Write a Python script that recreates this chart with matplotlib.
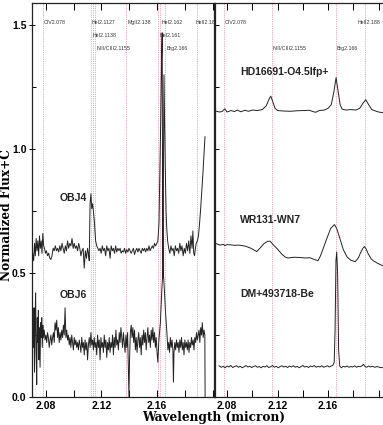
import matplotlib
matplotlib.use("Agg")
import matplotlib.pyplot as plt
from matplotlib.ticker import MultipleLocator, FixedLocator, FixedFormatter
from matplotlib.font_manager import FontProperties

# ---------------- data ----------------
obj4_wl = [2.0705, 2.0712, 2.0718, 2.0724, 2.0730, 2.0736, 2.0742, 2.0748, 2.0754, 2.0760,
           2.0766, 2.0772, 2.0778, 2.0784, 2.0790, 2.0797, 2.0804, 2.0812, 2.0820, 2.0828,
           2.0836, 2.0844, 2.0852, 2.0860, 2.0868, 2.0876, 2.0884, 2.0892, 2.0900, 2.0908,
           2.0916, 2.0924, 2.0932, 2.0940, 2.0948, 2.0956, 2.0964, 2.0972, 2.0980, 2.0988,
           2.0996, 2.1004, 2.1012, 2.1020, 2.1028, 2.1036, 2.1044, 2.1052, 2.1060, 2.1068,
           2.1076, 2.1084, 2.1092, 2.1100, 2.1106, 2.1112, 2.1118, 2.1124, 2.1130, 2.1136,
           2.1142, 2.1150, 2.1158, 2.1166, 2.1174, 2.1182, 2.1190, 2.1198, 2.1206, 2.1214,
           2.1222, 2.1230, 2.1238, 2.1246, 2.1254, 2.1262, 2.1270, 2.1278, 2.1286, 2.1294,
           2.1302, 2.1310, 2.1318, 2.1326, 2.1334, 2.1342, 2.1350, 2.1358, 2.1366, 2.1374,
           2.1382, 2.1390, 2.1398, 2.1406, 2.1414, 2.1422, 2.1430, 2.1438, 2.1446, 2.1454,
           2.1462, 2.1470, 2.1478, 2.1486, 2.1494, 2.1502, 2.1510, 2.1518, 2.1526, 2.1534,
           2.1542, 2.1550, 2.1558, 2.1566, 2.1574, 2.1582, 2.1590, 2.1598, 2.1606, 2.1614,
           2.1620, 2.1626, 2.1632, 2.1637, 2.1640, 2.1643, 2.1646, 2.1650, 2.1655, 2.1660,
           2.1665, 2.1670, 2.1676, 2.1684, 2.1692, 2.1700, 2.1708, 2.1716, 2.1724, 2.1732,
           2.1740, 2.1748, 2.1756, 2.1764, 2.1772, 2.1780, 2.1788, 2.1796, 2.1804, 2.1812,
           2.1820, 2.1828, 2.1836, 2.1844, 2.1852, 2.1858, 2.1864, 2.1870, 2.1876, 2.1882,
           2.1890, 2.1898, 2.1906, 2.1914, 2.1922, 2.1930, 2.1938, 2.1945]
obj4_flux = [0.58, 0.55, 0.62, 0.57, 0.64, 0.59, 0.63, 0.57, 0.65, 0.60,
             0.63, 0.58, 0.66, 0.61, 0.60, 0.58, 0.59, 0.57, 0.58, 0.56,
             0.555, 0.57, 0.60, 0.59, 0.61, 0.59, 0.60, 0.585, 0.61, 0.59,
             0.62, 0.60, 0.58, 0.61, 0.59, 0.63, 0.60, 0.62, 0.61, 0.64,
             0.60, 0.62, 0.60, 0.61, 0.59, 0.62, 0.60, 0.57, 0.59, 0.60,
             0.52, 0.59, 0.56, 0.60, 0.58, 0.55, 0.78, 0.82, 0.76, 0.78,
             0.75, 0.70, 0.63, 0.61, 0.60, 0.59, 0.60, 0.58, 0.61, 0.59,
             0.60, 0.57, 0.61, 0.59, 0.60, 0.56, 0.61, 0.59, 0.60, 0.58,
             0.61, 0.585, 0.60, 0.59, 0.60, 0.58, 0.59, 0.585, 0.60, 0.58,
             0.595, 0.585, 0.60, 0.59, 0.58, 0.59, 0.60, 0.575, 0.59, 0.60,
             0.585, 0.60, 0.59, 0.58, 0.60, 0.59, 0.60, 0.585, 0.60, 0.59,
             0.61, 0.59, 0.60, 0.61, 0.60, 0.62, 0.61, 0.62, 0.63, 0.70,
             0.90, 1.10, 1.35, 1.47, 0.80, 0.48, 0.90, 1.30, 1.10, 0.90,
             0.75, 0.68, 0.63, 0.60, 0.58, 0.61, 0.59, 0.60, 0.57, 0.61,
             0.59, 0.60, 0.58, 0.62, 0.59, 0.61, 0.57, 0.60, 0.58, 0.62,
             0.59, 0.63, 0.58, 0.65, 0.60, 0.67, 0.58, 0.57, 0.60, 0.62,
             0.63, 0.65, 0.70, 0.76, 0.83, 0.90, 0.98, 1.05]

obj6_wl = [2.0705, 2.0710, 2.0714, 2.0718, 2.0722, 2.0726, 2.0730, 2.0734, 2.0738, 2.0742,
           2.0746, 2.0750, 2.0754, 2.0758, 2.0762, 2.0766, 2.0770, 2.0774, 2.0778, 2.0782,
           2.0788, 2.0794, 2.0800, 2.0806, 2.0812, 2.0818, 2.0824, 2.0830, 2.0836, 2.0842,
           2.0848, 2.0854, 2.0860, 2.0866, 2.0872, 2.0878, 2.0884, 2.0890, 2.0896, 2.0902,
           2.0908, 2.0914, 2.0920, 2.0926, 2.0932, 2.0938, 2.0944, 2.0950, 2.0956, 2.0962,
           2.0968, 2.0974, 2.0980, 2.0986, 2.0992, 2.0998, 2.1004, 2.1010, 2.1016, 2.1022,
           2.1028, 2.1034, 2.1040, 2.1046, 2.1052, 2.1058, 2.1064, 2.1070, 2.1076, 2.1082,
           2.1088, 2.1094, 2.1100, 2.1106, 2.1112, 2.1118, 2.1124, 2.1130, 2.1136, 2.1142,
           2.1148, 2.1154, 2.1160, 2.1166, 2.1172, 2.1178, 2.1184, 2.1190, 2.1196, 2.1202,
           2.1208, 2.1214, 2.1220, 2.1226, 2.1232, 2.1238, 2.1244, 2.1250, 2.1256, 2.1262,
           2.1268, 2.1274, 2.1280, 2.1286, 2.1292, 2.1298, 2.1304, 2.1310, 2.1316, 2.1322,
           2.1328, 2.1334, 2.1340, 2.1346, 2.1352, 2.1358, 2.1364, 2.1370, 2.1376, 2.1382,
           2.1388, 2.1394, 2.1398, 2.1402, 2.1408, 2.1414, 2.1420, 2.1426, 2.1432, 2.1438,
           2.1444, 2.1450, 2.1456, 2.1462, 2.1468, 2.1474, 2.1480, 2.1486, 2.1492, 2.1498,
           2.1504, 2.1510, 2.1516, 2.1522, 2.1528, 2.1534, 2.1540, 2.1546, 2.1552, 2.1558,
           2.1564, 2.1570, 2.1576, 2.1582, 2.1588, 2.1594, 2.1600, 2.1606, 2.1612, 2.1618,
           2.1624, 2.1630, 2.1636, 2.1642, 2.1648, 2.1654, 2.1660, 2.1666, 2.1672, 2.1678,
           2.1684, 2.1690, 2.1696, 2.1702, 2.1708, 2.1714, 2.1718, 2.1722, 2.1728, 2.1734,
           2.1740, 2.1746, 2.1752, 2.1758, 2.1764, 2.1770, 2.1776, 2.1782, 2.1788, 2.1794,
           2.1800, 2.1806, 2.1812, 2.1818, 2.1824, 2.1830, 2.1836, 2.1842, 2.1848, 2.1854,
           2.1860, 2.1866, 2.1872, 2.1878, 2.1884, 2.1890, 2.1896, 2.1902, 2.1908, 2.1914,
           2.1920, 2.1926, 2.1932, 2.1938, 2.1944, 2.1946]
obj6_flux = [0.30, 0.20, 0.36, 0.10, 0.30, 0.42, 0.18, 0.05, 0.32, 0.22,
             0.35, 0.15, 0.28, 0.12, 0.30, 0.24, 0.32, 0.20, 0.29, 0.24,
             0.27, 0.23, 0.25, 0.22, 0.26, 0.24, 0.20, 0.23, 0.25, 0.21,
             0.24, 0.26, 0.22, 0.30, 0.27, 0.31, 0.24, 0.28, 0.22, 0.26,
             0.23, 0.27, 0.24, 0.29, 0.25, 0.36, 0.24, 0.27, 0.23, 0.25,
             0.21, 0.24, 0.20, 0.25, 0.22, 0.19, 0.24, 0.21, 0.23, 0.20,
             0.22, 0.19, 0.23, 0.21, 0.18, 0.24, 0.20, 0.22, 0.17, 0.23,
             0.19, 0.22, 0.15, 0.21, 0.24, 0.20, 0.26, 0.21, 0.23, 0.19,
             0.24, 0.20, 0.22, 0.17, 0.25, 0.20, 0.23, 0.15, 0.24, 0.20,
             0.22, 0.18, 0.25, 0.20, 0.23, 0.16, 0.22, 0.19, 0.24, 0.18,
             0.22, 0.20, 0.25, 0.17, 0.24, 0.20, 0.27, 0.21, 0.23, 0.19,
             0.26, 0.22, 0.28, 0.24, 0.20, 0.26, 0.22, 0.18, 0.25, 0.20,
             0.26, 0.10, 0.00, 0.15, 0.26, 0.29, 0.24, 0.28, 0.22, 0.27,
             0.19, 0.24, 0.18, 0.23, 0.26, 0.20, 0.24, 0.17, 0.25, 0.21,
             0.27, 0.22, 0.26, 0.19, 0.24, 0.28, 0.22, 0.25, 0.20, 0.27,
             0.23, 0.28, 0.22, 0.26, 0.20, 0.24, 0.18, 0.14, 0.22, 0.26,
             0.30, 0.38, 0.45, 0.50, 0.48, 0.42, 0.35, 0.30, 0.25, 0.19,
             0.22, 0.18, 0.24, 0.20, 0.23, 0.19, 0.06, 0.18, 0.22, 0.19,
             0.23, 0.20, 0.22, 0.18, 0.23, 0.20, 0.24, 0.19, 0.22, 0.17,
             0.23, 0.20, 0.22, 0.19, 0.23, 0.18, 0.22, 0.20, 0.24, 0.21,
             0.23, 0.19, 0.24, 0.22, 0.26, 0.23, 0.25, 0.27, 0.22, 0.28,
             0.25, 0.30, 0.24, 0.27, 0.25, 0.00]

hd_wl = [2.0705, 2.0740, 2.0760, 2.0784, 2.0800, 2.0830, 2.0860, 2.0880, 2.0910, 2.0940,
         2.0970, 2.1000, 2.1040, 2.1080, 2.1110, 2.1135, 2.1146, 2.1160, 2.1180, 2.1200,
         2.1250, 2.1300, 2.1350, 2.1400, 2.1450, 2.1480, 2.1500, 2.1530, 2.1570, 2.1600,
         2.1625, 2.1645, 2.1663, 2.1680, 2.1695, 2.1710, 2.1740, 2.1780, 2.1820, 2.1850,
         2.1875, 2.1898, 2.1920, 2.1945, 2.1970, 2.2000, 2.2050]
hd_flux = [1.155, 1.150, 1.152, 1.163, 1.150, 1.156, 1.152, 1.158, 1.151, 1.157,
           1.153, 1.158, 1.156, 1.160, 1.175, 1.205, 1.214, 1.195, 1.165, 1.156,
           1.154, 1.153, 1.155, 1.156, 1.157, 1.152, 1.149, 1.156, 1.158, 1.165,
           1.180, 1.230, 1.289, 1.230, 1.180, 1.162, 1.158, 1.160, 1.158, 1.165,
           1.185, 1.200, 1.180, 1.160, 1.155, 1.150, 1.146]

wr_wl = [2.0705, 2.0720, 2.0745, 2.0770, 2.0784, 2.0800, 2.0830, 2.0860, 2.0890, 2.0920,
         2.0950, 2.0990, 2.1035, 2.1060, 2.1090, 2.1120, 2.1140, 2.1165, 2.1194, 2.1233,
         2.1260, 2.1283, 2.1330, 2.1378, 2.1420, 2.1457, 2.1490, 2.1520, 2.1540, 2.1560,
         2.1590, 2.1620, 2.1650, 2.1668, 2.1690, 2.1720, 2.1750, 2.1780, 2.1814, 2.1840,
         2.1855, 2.1875, 2.1887, 2.1900, 2.1917, 2.1940, 2.1957, 2.1990, 2.2050]
wr_flux = [0.621, 0.618, 0.613, 0.616, 0.611, 0.615, 0.614, 0.612, 0.613, 0.611,
           0.608, 0.600, 0.587, 0.600, 0.618, 0.628, 0.629, 0.615, 0.600, 0.577,
           0.565, 0.561, 0.564, 0.563, 0.561, 0.562, 0.555, 0.550, 0.570, 0.598,
           0.640, 0.680, 0.696, 0.680, 0.645, 0.595, 0.565, 0.552, 0.546, 0.562,
           0.580, 0.600, 0.607, 0.598, 0.578, 0.558, 0.550, 0.540, 0.525]

dm_wl = [2.0737, 2.0755, 2.0770, 2.0785, 2.0800, 2.0815, 2.0830, 2.0845, 2.0860, 2.0875,
         2.0890, 2.0905, 2.0920, 2.0935, 2.0950, 2.0965, 2.0980, 2.0995, 2.1010, 2.1025,
         2.1040, 2.1055, 2.1070, 2.1085, 2.1100, 2.1115, 2.1130, 2.1145, 2.1160, 2.1175,
         2.1190, 2.1205, 2.1220, 2.1235, 2.1250, 2.1265, 2.1280, 2.1295, 2.1310, 2.1325,
         2.1340, 2.1355, 2.1370, 2.1385, 2.1400, 2.1415, 2.1430, 2.1445, 2.1460, 2.1475,
         2.1490, 2.1505, 2.1520, 2.1535, 2.1550, 2.1565, 2.1580, 2.1595, 2.1610, 2.1625,
         2.1637, 2.1648, 2.1655, 2.1662, 2.1668, 2.1675, 2.1683, 2.1692, 2.1705, 2.1720,
         2.1735, 2.1750, 2.1765, 2.1780, 2.1795, 2.1810, 2.1825, 2.1840, 2.1855, 2.1870,
         2.1880, 2.1890, 2.1905, 2.1920, 2.1935, 2.1950, 2.1970, 2.1990, 2.2010, 2.2050]
dm_flux = [0.126, 0.120, 0.124, 0.118, 0.125, 0.121, 0.127, 0.119, 0.123, 0.126,
           0.120, 0.124, 0.118, 0.122, 0.127, 0.121, 0.124, 0.119, 0.123, 0.126,
           0.120, 0.123, 0.118, 0.124, 0.121, 0.126, 0.119, 0.122, 0.127, 0.120,
           0.124, 0.118, 0.123, 0.126, 0.121, 0.124, 0.119, 0.125, 0.121, 0.126,
           0.120, 0.124, 0.118, 0.123, 0.127, 0.121, 0.124, 0.119, 0.125, 0.122,
           0.127, 0.120, 0.124, 0.121, 0.126, 0.120, 0.123, 0.126, 0.121, 0.125,
           0.128, 0.140, 0.270, 0.550, 0.585, 0.500, 0.190, 0.125, 0.118, 0.124,
           0.121, 0.125, 0.120, 0.123, 0.121, 0.126, 0.120, 0.124, 0.122, 0.127,
           0.132, 0.124, 0.120, 0.125, 0.121, 0.124, 0.120, 0.123, 0.119, 0.118]

left_lines = [2.078, 2.1127, 2.1138, 2.1155, 2.138, 2.161, 2.162, 2.166, 2.189]
right_lines = [2.078, 2.1155, 2.166, 2.189]

left_labels = ["CIV2.078", "HeI2.1127", "HeI2.1138", "NIII/CIII2.1155", "MgII2.138",
               "HeI2.162", "HeI2.161", "Brg2.166", "HeII2.188"]
left_label_x = [2.0781, 2.1128, 2.1139, 2.1164, 2.1386, 2.1630, 2.1618, 2.1666, 2.1875]
left_label_row = [0, 0, 1, 2, 0, 0, 1, 2, 0]
right_labels = ["CIV2.078", "NIII/CIII2.1155", "Brg2.166", "HeII2.188"]
right_label_x = [2.0784, 2.1162, 2.1669, 2.1832]
right_label_row = [0, 2, 2, 0]
row_y = [1.512, 1.459, 1.406]

star_names = ["OBJ4", "OBJ6", "HD16691-O4.5Ifp+", "WR131-WN7", "DM+493718-Be"]
star_name_y = [0.805, 0.410, 1.310, 0.713, 0.415]

xticks = [2.08, 2.12, 2.16]
xtick_labels = ["2.08", "2.12", "2.16"]
yticks = [0.0, 0.5, 1.0, 1.5]
ytick_labels = ["0.0", "0.5", "1.0", "1.5"]

# ---------------- figure ----------------
W, H = 383, 425
fig = plt.figure(figsize=(W / 100, H / 100), dpi=100)
ax1 = fig.add_axes([32 / W, 28 / H, 182 / W, 394 / H])
ax2 = fig.add_axes([215 / W, 28 / H, 170 / W, 394 / H])

line_color = "#e58aa0"
spec_color = "#222222"
small_font = dict(family="Liberation Sans", fontsize=3.8, color="#333333")
name_font = dict(family="Liberation Sans", fontsize=7.5, fontweight="bold", color="#222222")
tick_fp = FontProperties(family="Liberation Sans", size=7.5, weight="bold")

for ax, lines in ((ax1, left_lines), (ax2, right_lines)):
    for w in lines:
        ax.axvline(w, color=line_color, linestyle=(0, (1, 1.2)), linewidth=0.6, zorder=1)

ax1.plot(obj4_wl, obj4_flux, color=spec_color, linewidth=0.7, zorder=2)
ax1.plot(obj6_wl, obj6_flux, color=spec_color, linewidth=0.7, zorder=2)
ax2.plot(hd_wl, hd_flux, color=spec_color, linewidth=0.7, zorder=2)
ax2.plot(wr_wl, wr_flux, color=spec_color, linewidth=0.7, zorder=2)
ax2.plot(dm_wl, dm_flux, color=spec_color, linewidth=0.7, zorder=2)

for lab, x, r in zip(left_labels, left_label_x, left_label_row):
    ax1.text(x, row_y[r], lab, ha="left", va="center", clip_on=True, **small_font)
for lab, x, r in zip(right_labels, right_label_x, right_label_row):
    ax2.text(x, row_y[r], lab, ha="left", va="center", clip_on=True, **small_font)

for i, (name, y) in enumerate(zip(star_names, star_name_y)):
    ax = ax1 if i < 2 else ax2
    ax.text(2.0902 if i < 2 else 2.0905, y, name, ha="left", va="center", **name_font)

ax1.set_xlim(2.07, 2.201)
ax2.set_xlim(2.0705, 2.205)
for ax in (ax1, ax2):
    ax.set_ylim(0, 1.59)
    ax.xaxis.set_major_locator(FixedLocator(xticks))
    ax.xaxis.set_major_formatter(FixedFormatter(xtick_labels))
    ax.xaxis.set_minor_locator(MultipleLocator(0.02))
    ax.yaxis.set_major_locator(FixedLocator(yticks))
    ax.yaxis.set_minor_locator(MultipleLocator(0.25))
    ax.tick_params(axis="x", which="both", direction="in", top=True, bottom=True,
                   length=5, width=0.7, pad=3)
    ax.tick_params(axis="y", which="both", direction="in", left=True, right=False,
                   length=3, width=0.7)
    for s in ax.spines.values():
        s.set_linewidth(0.9)
        s.set_color("#222222")
    for t in ax.get_xticklabels():
        t.set_fontproperties(tick_fp)

ax1.yaxis.set_major_formatter(FixedFormatter(ytick_labels))
ax1.tick_params(axis="y", which="major", direction="inout", length=4, pad=2)
for t in ax1.get_yticklabels():
    t.set_fontproperties(tick_fp)
ax2.set_yticklabels([])

fig.text(214 / W, 1 - 417.5 / H, "Wavelength (micron)", ha="center", va="center",
         family="DejaVu Serif", fontsize=8.7, fontweight="bold")
fig.text(6.5 / W, 1 - 215 / H, "Normalized Flux+C", ha="center", va="center", rotation=90,
         family="DejaVu Serif", fontsize=8.7, fontweight="bold")

fig.savefig("out.png", dpi=100)
